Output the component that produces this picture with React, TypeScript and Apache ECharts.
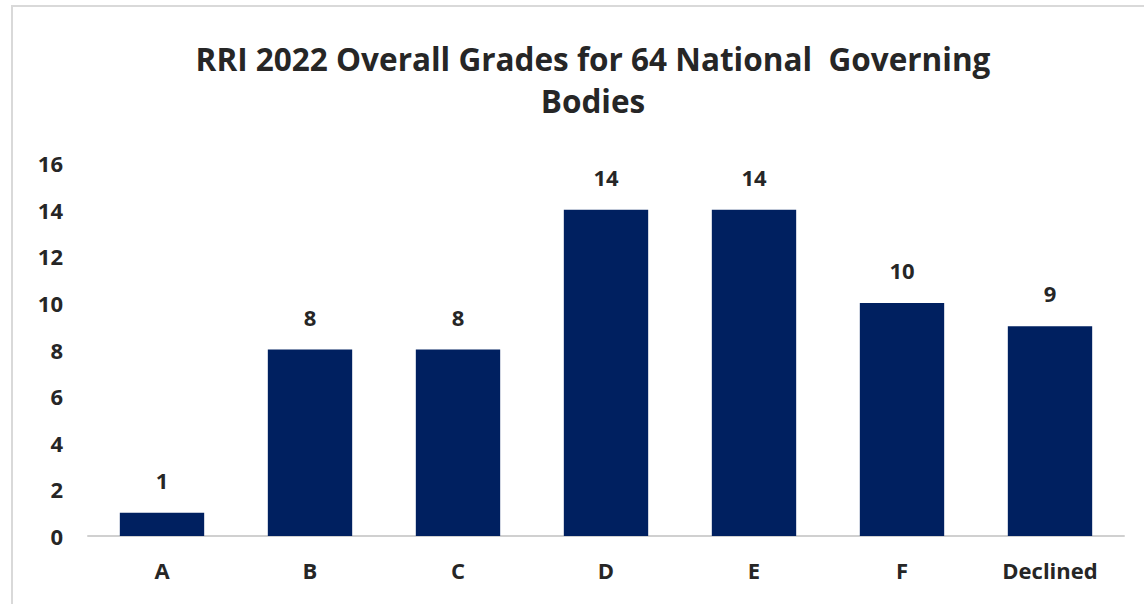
import React, { useEffect, useRef } from "react";
import * as echarts from "echarts";

const categories = ["A", "B", "C", "D", "E", "F", "Declined"];
const counts = [1, 8, 8, 14, 14, 10, 9];
const titleLines = ["RRI 2022 Overall Grades for 64 National  Governing", "Bodies"];

export default function App() {
  const ref = useRef<HTMLDivElement>(null);
  useEffect(() => {
    if (!ref.current) return;
    const chart = echarts.init(ref.current, null, { renderer: "svg" });
    const font = "'Open Sans', 'Noto Sans', sans-serif";
    const txt = "#262626";
    chart.setOption({
      animation: false,
      backgroundColor: "#ffffff",
      graphic: [
        {
          type: "rect",
          shape: { x: 12, y: 6, width: 1150, height: 620 },
          style: { fill: "none", stroke: "#d9d9d9", lineWidth: 2 },
          silent: true,
        },
      ],
      title: {
        text: titleLines.join("\n"),
        left: 588,
        textAlign: "center",
        top: 32,
        textStyle: {
          fontFamily: font,
          fontWeight: "bold",
          fontSize: 31.5,
          lineHeight: 42,
          color: txt,
        },
      },
      grid: { left: 88, right: 20, top: 163, bottom: 68, containLabel: false },
      xAxis: {
        type: "category",
        data: categories,
        axisLine: { show: true, lineStyle: { color: "#d0d0d0", width: 2 } },
        axisTick: { show: false },
        axisLabel: {
          fontFamily: font,
          fontWeight: "bold",
          fontSize: 22,
          color: txt,
          margin: 23,
        },
      },
      yAxis: {
        type: "value",
        min: 0,
        max: 16,
        interval: 2,
        splitLine: { show: false },
        axisLine: { show: false },
        axisTick: { show: false },
        axisLabel: {
          fontFamily: font,
          fontWeight: "bold",
          fontSize: 22,
          color: txt,
          margin: 25,
        },
      },
      series: [
        {
          type: "bar",
          data: counts,
          barWidth: "57%",
          itemStyle: { color: "#002060" },
          label: {
            show: true,
            position: "top",
            distance: 22,
            fontFamily: font,
            fontWeight: "bold",
            fontSize: 22,
            color: txt,
          },
        },
      ],
    });
    return () => chart.dispose();
  }, []);
  return (
    <div
      ref={ref}
      style={{ position: "fixed", left: 0, top: 0, width: 1144, height: 604 }}
    />
  );
}
